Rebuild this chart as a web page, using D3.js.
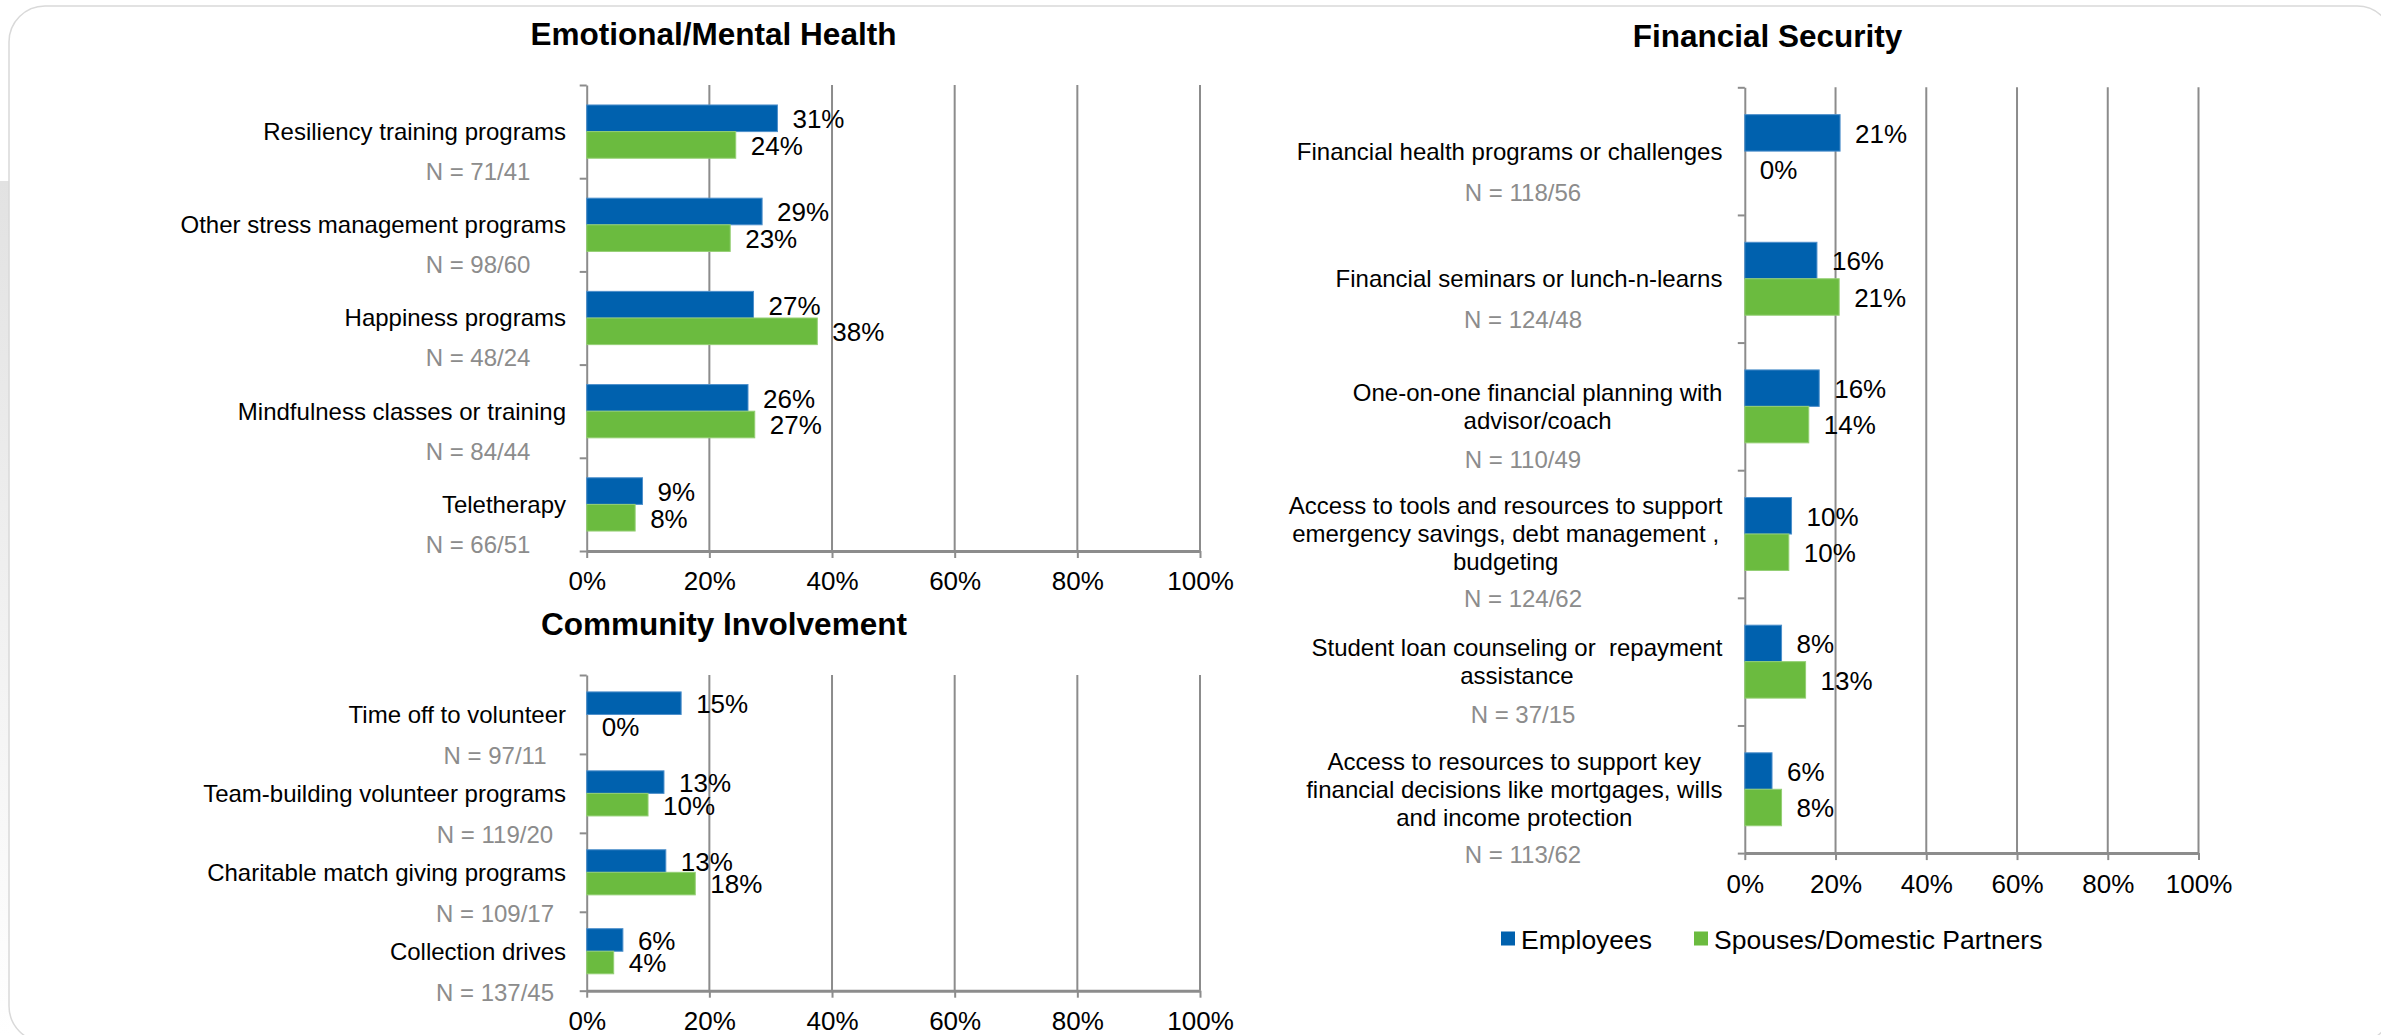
<!DOCTYPE html>
<html>
<head>
<meta charset="utf-8">
<script src="https://cdn.jsdelivr.net/npm/d3@7"></script>
<style>
  body { margin: 0; background: #ffffff; }
  text { font-family: "Liberation Sans", Arial, sans-serif; }
</style>
</head>
<body>
<div id="chart"></div>
<script>
// Define svg dimensions
var svgWidth = 2381;
var svgHeight = 1035;

// Series shared by all three panels
var seriesNames = ["Employees", "Spouses/Domestic Partners"];
var seriesColors = ["#0061ae", "#6bbb3f"];
var seriesEdges = ["#4d8fcb", "#94cf74"];
var tickValues = [0, 20, 40, 60, 80, 100];

// Emotional/Mental Health
var emotionalCategories = [
  "Resiliency training programs",
  "Other stress management programs",
  "Happiness programs",
  "Mindfulness classes or training",
  "Teletherapy"
];
var emotionalN = ["N = 71/41", "N = 98/60", "N = 48/24", "N = 84/44", "N = 66/51"];
var emotionalEmployees = [31.1, 28.6, 27.2, 26.3, 9.1];
var emotionalSpouses = [24.3, 23.4, 37.6, 27.4, 7.9];

// Community Involvement
var communityCategories = [
  "Time off to volunteer",
  "Team-building volunteer programs",
  "Charitable match giving programs",
  "Collection drives"
];
var communityN = ["N = 97/11", "N = 119/20", "N = 109/17", "N = 137/45"];
var communityEmployees = [15.4, 12.6, 12.9, 5.9];
var communitySpouses = [0, 10.0, 17.7, 4.4];

// Financial Security
var financialCategories = [
  "Financial health programs or challenges",
  "Financial seminars or lunch-n-learns",
  "One-on-one financial planning with\nadvisor/coach",
  "Access to tools and resources to support\nemergency savings, debt management ,\nbudgeting",
  "Student loan counseling or  repayment\nassistance",
  "Access to resources to support key\nfinancial decisions like mortgages, wills\nand income protection"
];
var financialN = ["N = 118/56", "N = 124/48", "N = 110/49", "N = 124/62", "N = 37/15", "N = 113/62"];
var financialEmployees = [21.0, 15.9, 16.4, 10.3, 8.1, 6.0];
var financialSpouses = [0, 20.8, 14.1, 9.7, 13.4, 8.1];

var gridColor = "#8c8c8c";

// Add svg element
var svg = d3.select("#chart")
  .append("svg")
  .attr("width", svgWidth)
  .attr("height", svgHeight);

// Background frame (rounded card with faded strip on the left)
var defs = svg.append("defs");
var fade = defs.append("linearGradient")
  .attr("id", "leftFade")
  .attr("x1", 0).attr("y1", 0).attr("x2", 0).attr("y2", 1);
fade.append("stop").attr("offset", "0%").attr("stop-color", "#e2e2e2");
fade.append("stop").attr("offset", "100%").attr("stop-color", "#ffffff");

svg.append("rect")
  .attr("x", 0).attr("y", 181)
  .attr("width", 10).attr("height", svgHeight - 181)
  .attr("fill", "url(#leftFade)");

svg.append("rect")
  .attr("x", 9).attr("y", 6)
  .attr("width", 2384).attr("height", 1036)
  .attr("rx", 36).attr("ry", 36)
  .attr("fill", "#ffffff")
  .attr("stroke", "#d9d9d9")
  .attr("stroke-width", 1.5);

// Draw one clustered bar panel
function drawPanel(layout, categories, nLabels, employees, spouses) {

  var g = svg.append("g").classed("panel", true);

  var xScale = d3.scaleLinear()
    .domain([0, 100])
    .range([layout.left, layout.right]);

  var yScale = d3.scaleBand()
    .domain(categories)
    .range([layout.top, layout.bottom])
    .padding(0);

  var ySeries = d3.scaleBand()
    .domain(seriesNames)
    .range([0, yScale.bandwidth()])
    .paddingInner(0)
    .paddingOuter(0.75);

  // Title
  g.append("text")
    .attr("x", layout.titleX)
    .attr("y", layout.titleY)
    .attr("text-anchor", "middle")
    .attr("font-size", "31.5px")
    .attr("font-weight", "bold")
    .attr("fill", "#000")
    .text(layout.title);

  // Vertical gridlines
  g.append("g")
    .selectAll("line")
    .data(tickValues.slice(1))
    .enter()
    .append("line")
    .attr("x1", d => xScale(d))
    .attr("x2", d => xScale(d))
    .attr("y1", layout.top)
    .attr("y2", layout.bottom)
    .attr("stroke", gridColor)
    .attr("stroke-width", 2);

  // Left axis with ticks between categories
  var boundary = d3.scaleLinear()
    .domain([0, categories.length])
    .range([layout.top, layout.bottom]);
  var leftAxis = g.append("g")
    .attr("transform", `translate(${layout.left}, 0)`)
    .call(d3.axisLeft(boundary).ticks(categories.length).tickFormat("").tickSize(7).tickSizeOuter(0));
  leftAxis.selectAll("path, line").attr("stroke", gridColor).attr("stroke-width", 2);

  // Bottom axis
  var bottomAxis = g.append("g")
    .attr("transform", `translate(0, ${layout.bottom})`)
    .call(d3.axisBottom(xScale)
      .tickValues(tickValues)
      .tickFormat(d => d + "%")
      .tickSize(7)
      .tickSizeOuter(0)
      .tickPadding(14));
  bottomAxis.select(".domain").attr("stroke", gridColor).attr("stroke-width", 3);
  bottomAxis.selectAll(".tick line").attr("stroke", gridColor).attr("stroke-width", 2);
  bottomAxis.selectAll("text")
    .attr("font-size", "26px")
    .attr("fill", "#000")
    .style("font-family", "'Liberation Sans', Arial, sans-serif");

  // Bars
  var rows = categories.map((c, i) => ({ cat: c, values: [employees[i], spouses[i]] }));

  var groups = g.append("g")
    .selectAll("g")
    .data(rows)
    .enter()
    .append("g")
    .attr("transform", d => `translate(0, ${yScale(d.cat)})`);

  groups.selectAll("rect")
    .data(d => d.values.map((v, s) => ({ v: v, s: s })))
    .enter()
    .append("rect")
    .attr("x", xScale(0))
    .attr("y", d => ySeries(seriesNames[d.s]))
    .attr("width", d => xScale(d.v) - xScale(0))
    .attr("height", ySeries.bandwidth())
    .attr("fill", d => seriesColors[d.s])
    .attr("stroke", d => d.v > 0 ? seriesEdges[d.s] : "none")
    .attr("stroke-width", 1);

  // Data labels
  groups.selectAll("text")
    .data(d => d.values.map((v, s) => ({ v: v, s: s })))
    .enter()
    .append("text")
    .attr("x", d => xScale(d.v) + 15)
    .attr("y", d => ySeries(seriesNames[d.s]) + ySeries.bandwidth() / 2)
    .attr("dy", "0.38em")
    .attr("font-size", "26px")
    .attr("fill", "#000")
    .text(d => Math.round(d.v) + "%");

  // Category labels (multi-line blocks right aligned, lines centred)
  categories.forEach(function(cat, i) {
    var lines = cat.split("\n");
    var cy = yScale(cat) + yScale.bandwidth() / 2;
    var label = g.append("g");
    var texts = lines.map(function(line, k) {
      return label.append("text")
        .attr("y", cy + (k - (lines.length - 1) / 2) * layout.lineHeight)
        .attr("dy", "0.35em")
        .attr("font-size", "24px")
        .attr("fill", "#000")
        .attr("text-anchor", "middle")
        .style("white-space", "pre")
        .text(line);
    });
    var maxWidth = d3.max(texts, t => t.node().getComputedTextLength());
    texts.forEach(t => t.attr("x", layout.labelRight - maxWidth / 2));

    // Respondent counts
    g.append("text")
      .attr("x", layout.nX)
      .attr("y", cy + layout.nOffset + (lines.length - 1) * 12)
      .attr("dy", "0.35em")
      .attr("text-anchor", "middle")
      .attr("font-size", "24px")
      .attr("fill", "#8c8c8c")
      .text(nLabels[i]);
  });
}

drawPanel({
  title: "Emotional/Mental Health", titleX: 713.5, titleY: 45,
  left: 586.7, right: 1200, top: 85, bottom: 551,
  labelRight: 566, nX: 478, nOffset: 40, lineHeight: 28
}, emotionalCategories, emotionalN, emotionalEmployees, emotionalSpouses);

drawPanel({
  title: "Community Involvement", titleX: 724, titleY: 635,
  left: 586.7, right: 1200, top: 675, bottom: 990.7,
  labelRight: 566, nX: 495, nOffset: 41, lineHeight: 28
}, communityCategories, communityN, communityEmployees, communitySpouses);

drawPanel({
  title: "Financial Security", titleX: 1767.5, titleY: 47,
  left: 1744.8, right: 2198.5, top: 87.3, bottom: 853.1,
  labelRight: 1722.4, nX: 1523, nOffset: 41, lineHeight: 28
}, financialCategories, financialN, financialEmployees, financialSpouses);

// Legend
var legend = svg.append("g").classed("legend", true);
var legendX = [1501, 1694];
seriesNames.forEach(function(name, i) {
  legend.append("rect")
    .attr("x", legendX[i])
    .attr("y", 931.5)
    .attr("width", 14)
    .attr("height", 14)
    .attr("fill", seriesColors[i]);
  legend.append("text")
    .attr("x", legendX[i] + 20)
    .attr("y", 940)
    .attr("dy", "0.35em")
    .attr("font-size", "26.5px")
    .attr("fill", "#000")
    .text(name);
});
</script>
</body>
</html>
